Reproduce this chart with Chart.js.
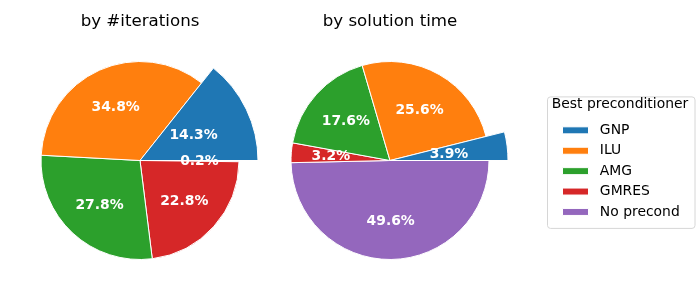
<!DOCTYPE html>
<html><head><meta charset="utf-8">
<script src="https://cdn.jsdelivr.net/npm/chart.js@4"></script>
<style>
html,body{margin:0;padding:0;background:#fff;}
#wrap{position:relative;width:700px;height:300px;overflow:hidden;background:#fff;}
canvas{position:absolute;top:0;}
#c1{left:0;}
#c2{left:200px;}
</style></head><body>
<div id="wrap">
<canvas id="c1" width="280" height="300"></canvas>
<canvas id="c2" width="500" height="300"></canvas>
</div>
<script>
const categories = ['GNP', 'ILU', 'AMG', 'GMRES', 'No precond'];
const iterationShares = [14.3, 34.8, 27.8, 22.8, 0.2];
const timeShares = [3.9, 25.6, 17.6, 3.2, 49.6];
const colors = ['#1f77b4', '#ff7f0e', '#2ca02c', '#d62728', '#9467bd'];
const chartTitles = ['by #iterations', 'by solution time'];
const legendTitle = 'Best preconditioner';

const FONT = "'DejaVu Sans', 'Liberation Sans', sans-serif";
const R = 99, EXPLODED_R = 118, PCT_DIST = 0.6;
Chart.defaults.font.family = FONT;
Chart.defaults.color = '#000';

const rev = a => a.slice().reverse();

const explodePlugin = {
  id: 'explode',
  afterDatasetsUpdate(chart) {
    const meta = chart.getDatasetMeta(0);
    const n = meta.data.length;
    if (n) meta.data[n - 1].outerRadius = EXPLODED_R; // first category (drawn last)
  }
};

const pctPlugin = {
  id: 'pct',
  afterDatasetsDraw(chart) {
    const ctx = chart.ctx;
    const ds = chart.data.datasets[0];
    const total = ds.data.reduce((a, b) => a + b, 0);
    const meta = chart.getDatasetMeta(0);
    ctx.save();
    ctx.font = 'bold 13.9px ' + FONT;
    ctx.fillStyle = '#fff';
    ctx.textAlign = 'center';
    ctx.textBaseline = 'middle';
    meta.data.forEach((el, i) => {
      const mid = (el.startAngle + el.endAngle) / 2;
      const x = el.x + Math.cos(mid) * R * PCT_DIST;
      const y = el.y + Math.sin(mid) * R * PCT_DIST;
      ctx.fillText((ds.data[i] / total * 100).toFixed(1) + '%', x, y + 1);
    });
    ctx.restore();
  }
};

const framePlugin = {
  id: 'frame',
  beforeDraw(chart) {
    const lg = chart.legend;
    if (!lg || !lg.options.display || !lg.legendHitBoxes || !lg.legendHitBoxes.length) return;
    const hb = lg.legendHitBoxes;
    const left = lg.left - 9, right = left + 147.5;
    const top = hb[0].top - 27, bottom = hb[hb.length - 1].top + hb[hb.length - 1].height + 9;
    const ctx = chart.ctx;
    ctx.save();
    ctx.beginPath();
    ctx.roundRect(left + 0.5, top + 0.5, right - left, bottom - top, 3);
    ctx.fillStyle = 'rgba(255,255,255,0.8)';
    ctx.fill();
    ctx.strokeStyle = '#d6d6d6';
    ctx.lineWidth = 1;
    ctx.stroke();
    ctx.restore();
  }
};

function pieConfig(values, title, withLegend, padding) {
  return {
    type: 'pie',
    data: {
      labels: rev(categories),
      datasets: [{
        data: rev(values),
        backgroundColor: rev(colors),
        borderColor: '#ffffff',
        borderWidth: 1,
        clip: false
      }]
    },
    options: {
      responsive: false,
      animation: false,
      rotation: 90,
      radius: R,
      layout: { padding: padding },
      plugins: {
        tooltip: { enabled: false },
        title: {
          display: true,
          text: title,
          fullSize: false,
          color: '#000',
          font: { size: 16.67, weight: 'normal', family: FONT, lineHeight: 1.2 },
          padding: { top: 12, bottom: 8 }
        },
        legend: {
          display: withLegend,
          position: 'right',
          fullSize: false,
          reverse: true,
          title: {
            display: true,
            text: legendTitle,
            color: '#000',
            font: { size: 13.9, family: FONT, lineHeight: 1.2 },
            padding: 2.3
          },
          labels: {
            color: '#000',
            font: { size: 13.9, family: FONT },
            boxWidth: 26,
            boxHeight: 7,
            padding: 6.5,
            generateLabels(chart) {
              const items = Chart.controllers.pie.overrides.plugins.legend.labels.generateLabels(chart);
              items.forEach(it => { it.text = ' ' + it.text; });
              return items;
            }
          }
        }
      }
    },
    plugins: [explodePlugin, pctPlugin, framePlugin]
  };
}

const c1 = new Chart(document.getElementById('c1'),
  pieConfig(iterationShares, chartTitles[0], false, { top: 0, bottom: 19, left: 0, right: 0 }));

const L2 = 200, W2 = 500, LEGEND_LEFT = 556, LEGEND_W = 128, CENTER2 = 390;
const c2 = new Chart(document.getElementById('c2'),
  pieConfig(timeShares, chartTitles[1], true, {
    top: 0, bottom: 19,
    left: (2 * CENTER2 - LEGEND_LEFT) - L2,
    right: W2 - (LEGEND_LEFT - L2) - LEGEND_W
  }));
const lg = c2.legend;
const origFit = lg.fit.bind(lg);
lg.fit = function () { origFit(); this.width = LEGEND_W; };
if (typeof lg._draw === 'function') {
  lg.draw = function () { if (this.options.display) this._draw(); };
}
c2.update();
</script>
</body></html>
